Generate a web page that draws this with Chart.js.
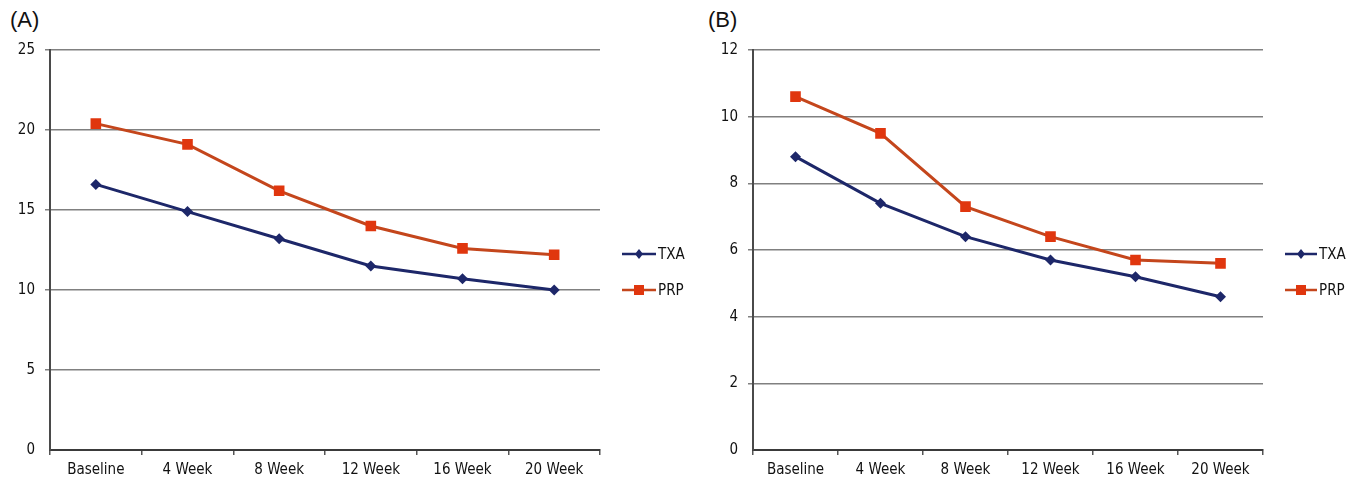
<!DOCTYPE html>
<html><head><meta charset="utf-8">
<script src="https://cdn.jsdelivr.net/npm/chart.js@4.4.0/dist/chart.umd.min.js"></script>
<style>
html,body{margin:0;padding:0;background:#fff;width:1352px;height:483px;overflow:hidden;}
.wrap{position:absolute;top:0;height:483px;}
.lab{position:absolute;top:7px;font:22px "Liberation Sans",Arial,sans-serif;color:#111;}
</style></head><body>
<div class="lab" style="left:10px">(A)</div>
<div class="lab" style="left:708px">(B)</div>
<div class="wrap" style="left:0;width:700px"><canvas id="a" width="700" height="483"></canvas></div>
<div class="wrap" style="left:700px;width:652px"><canvas id="b" width="652" height="483"></canvas></div>
<script>
const categories = ['Baseline','4 Week','8 Week','12 Week','16 Week','20 Week'];
const seriesNames = ['TXA','PRP'];
const txaA = [16.6, 14.9, 13.2, 11.5, 10.7, 10.0];
const prpA = [20.4, 19.1, 16.2, 14.0, 12.6, 12.2];
const txaB = [8.8, 7.4, 6.4, 5.7, 5.2, 4.6];
const prpB = [10.6, 9.5, 7.3, 6.4, 5.7, 5.6];
const ticksA = [0,5,10,15,20,25];
const ticksB = [0,2,4,6,8,10,12];

const FONT = '"Liberation Sans Narrow","Arial Narrow","DejaVu Sans Condensed",sans-serif';
const TXA_LINE = '#1d2769', TXA_PT = '#1d2769';
const PRP_LINE = '#c4461c', PRP_PT = '#e0360e';

const legendPlugin = {
  id: 'sideLegend',
  afterDraw(chart, args, opts) {
    const ctx = chart.ctx;
    ctx.save();
    chart.data.datasets.forEach((ds, i) => {
      const y = opts.y0 + i * opts.dy;
      const x0 = opts.x0;
      ctx.strokeStyle = ds.borderColor;
      ctx.lineWidth = 2.5;
      ctx.beginPath(); ctx.moveTo(x0, y); ctx.lineTo(x0 + opts.len, y); ctx.stroke();
      ctx.fillStyle = ds.pointBackgroundColor;
      const cx = x0 + opts.len / 2;
      if (ds.pointStyle === 'rect') {
        ctx.fillRect(cx - 5, y - 5, 10, 10);
      } else {
        ctx.beginPath(); ctx.moveTo(cx, y - 5); ctx.lineTo(cx + 4, y); ctx.lineTo(cx, y + 5); ctx.lineTo(cx - 4, y); ctx.closePath(); ctx.fill();
      }
      ctx.fillStyle = '#111';
      ctx.font = '15px ' + FONT;
      ctx.textBaseline = 'middle';
      ctx.textAlign = 'left';
      ctx.fillText(ds.label, x0 + opts.len + 2, y + 1);
    });
    ctx.restore();
  }
};

function makeChart(id, txa, prp, ticks, max, yWidth, padRight, legX, legLen) {
  new Chart(document.getElementById(id), {
    type: 'line',
    data: {
      labels: categories,
      datasets: [
        {label: seriesNames[0], data: txa, borderColor: TXA_LINE, backgroundColor: TXA_PT,
         pointBackgroundColor: TXA_PT, pointBorderColor: TXA_PT, pointStyle: 'rectRot',
         pointRadius: 5.5, pointBorderWidth: 0, borderWidth: 3, tension: 0},
        {label: seriesNames[1], data: prp, borderColor: PRP_LINE, backgroundColor: PRP_PT,
         pointBackgroundColor: PRP_PT, pointBorderColor: PRP_PT, pointStyle: 'rect',
         pointRadius: 7.5, pointBorderWidth: 0, borderWidth: 3, tension: 0}
      ]
    },
    options: {
      responsive: false, animation: false, devicePixelRatio: 1,
      layout: {padding: {left: 0, right: padRight, top: 50, bottom: 0}},
      plugins: {legend: {display: false}, tooltip: {enabled: false},
        sideLegend: {x0: legX, len: legLen, y0: 254, dy: 36}},
      scales: {
        x: {
          offset: true,
          grid: {offset: true, drawOnChartArea: false, drawTicks: true, tickLength: 5, color: '#555', lineWidth: 1.5},
          border: {display: true, color: '#3a3a3a', width: 2},
          ticks: {font: {family: FONT, size: 15}, color: '#111', padding: 6, maxRotation: 0, autoSkip: false},
          afterFit(s) { s.height = 33; }
        },
        y: {
          min: 0, max: max,
          afterBuildTicks(s) { s.ticks = ticks.map(v => ({value: v})); },
          grid: {color: c => c.tick && c.tick.value === 0 ? 'rgba(0,0,0,0)' : '#808080', lineWidth: 1.5, drawTicks: true, tickLength: 5},
          border: {display: true, color: '#4a4a4a', width: 2},
          ticks: {font: {family: FONT, size: 15}, color: '#111', padding: 10},
          afterFit(s) { s.width = yWidth; }
        }
      }
    },
    plugins: [legendPlugin]
  });
}
makeChart('a', txaA, prpA, ticksA, 25, 50, 100, 622, 34);
makeChart('b', txaB, prpB, ticksB, 12, 53, 89, 585, 32);
</script>
</body></html>
